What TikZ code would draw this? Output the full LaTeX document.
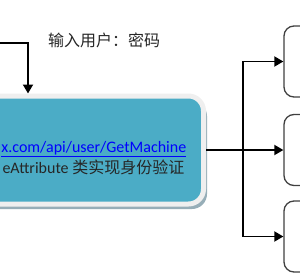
\documentclass[tikz,border=0pt]{standalone}
\usepackage{fontspec}
\setmainfont{Carlito}
\newfontfamily\cjk{Noto Sans CJK SC}
\usetikzlibrary{arrows.meta,shadows}
\definecolor{tealfill}{HTML}{4BACC6}
\definecolor{rimcol}{HTML}{EFEFEF}
\definecolor{shadecol}{HTML}{97AEB8}
\definecolor{linkblue}{HTML}{0000FF}
\tikzset{
  mainbox/.style={rectangle, rounded corners=15pt, fill=tealfill, draw=rimcol,
    line width=5pt, inner sep=0pt,
    drop shadow={shadow xshift=3.5pt, shadow yshift=-5pt, fill=shadecol, opacity=1}},
  sidebox/.style={rectangle, rounded corners=10pt, draw=black!75, line width=1.3pt,
    fill=white, inner sep=0pt, minimum width=60pt, minimum height=71pt},
  conn/.style={line width=1.8pt, draw=black},
  arr/.style={conn, -{Triangle[length=9pt,width=10pt]}},
  txt/.style={inner sep=0pt, font=\fontsize{16pt}{19pt}\selectfont}
}
\begin{document}
\begin{tikzpicture}[x=1pt,y=-1pt]
\useasboundingbox (0,0) rectangle (300,276);
\clip (0,0) rectangle (300,276);
% main box
\node[mainbox, minimum width=226pt, minimum height=108pt] (main) at (90.5,150) {};
\node[txt, anchor=base east, text=linkblue] (url) at (186.5,152) {\underline{x.com/api/user/GetMachine}};
\node[txt, anchor=base east, text=black!85] (desc) at (184.5,173) {eAttribute {\cjk 类实现身份验证}};
% label
\node[txt, anchor=base west, text=black!85] (lbl) at (48,46) {\cjk 输入用户：密码};
% right boxes
\node[sidebox] (b1) at (314,61.5) {};
\node[sidebox] (b2) at (314,150) {};
\node[sidebox] (b3) at (314,236.5) {};
% incoming arrow
\coordinate (src) at (-5,43);
\coordinate (tx) at (28,43);
\draw[arr] (src) -- (tx) -- (tx |- main.north);
% outgoing tree
\coordinate (bus) at (243,150);
\draw[arr] (main.east) -- (b2.west);
\draw[arr] (bus) |- (b1.west);
\draw[arr] (bus) |- (b3.west);
\end{tikzpicture}
\end{document}
